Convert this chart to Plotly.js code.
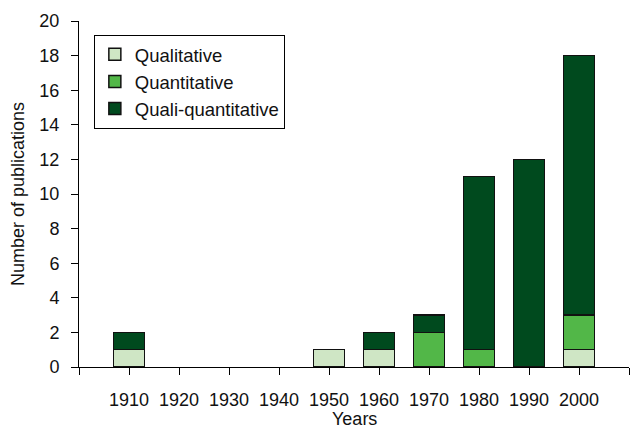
<!DOCTYPE html>
<html>
<head>
<meta charset="utf-8">
<script src="https://cdn.plot.ly/plotly-3.0.1.min.js"></script>
<style>html,body{margin:0;padding:0;background:#fff;}#chart{width:630px;height:428px;}</style>
</head>
<body>
<div id="chart"></div>
<script>
const years = [1910, 1920, 1930, 1940, 1950, 1960, 1970, 1980, 1990, 2000];
const qualitative = [1, 0, 0, 0, 1, 1, 0, 0, 0, 1];
const quantitative = [0, 0, 0, 0, 0, 0, 2, 1, 0, 2];
const qualiQuantitative = [1, 0, 0, 0, 0, 1, 1, 10, 12, 15];
const seriesNames = ['Qualitative', 'Quantitative', 'Quali-quantitative'];
const colors = ['#cfe6c5', '#52b748', '#004a1e'];
const yTicks = [0, 2, 4, 6, 8, 10, 12, 14, 16, 18, 20];

const allSeries = [qualitative, quantitative, qualiQuantitative];
const traces = allSeries.map((vals, i) => ({
  type: 'bar',
  name: seriesNames[i],
  x: years,
  y: vals.map(v => v === 0 ? null : v),
  width: 6.2,
  marker: {color: colors[i], line: {color: '#111', width: 1.5}},
  hoverinfo: 'x+y+name'
}));

const xTickVals = [years[0] - 10].concat(years, [years[years.length - 1] + 10]);
const xTickText = [''].concat(years.map(String), ['']);

const layout = {
  width: 630, height: 428,
  margin: {l: 79, r: 1, t: 21, b: 61},
  paper_bgcolor: '#fff', plot_bgcolor: '#fff',
  barmode: 'stack',
  showlegend: true,
  font: {family: 'Liberation Sans, Arial, sans-serif', size: 18, color: '#111'},
  legend: {
    x: 0.027, y: 0.96, xanchor: 'left', yanchor: 'top',
    traceorder: 'normal',
    bordercolor: '#000', borderwidth: 1, bgcolor: '#fff',
    font: {size: 18.5, color: '#111'},
    itemwidth: 30,
    tracegroupgap: 0
  },
  xaxis: {
    range: [1900, 2010],
    tickmode: 'array', tickvals: xTickVals, ticktext: xTickText,
    ticks: 'outside', ticklen: 7, tickwidth: 1, tickcolor: '#000',
    ticklabelstandoff: 9,
    showline: true, linecolor: '#000', linewidth: 1,
    showgrid: false, zeroline: false,
    tickfont: {size: 18},
    automargin: false
  },
  yaxis: {
    range: [0, 20],
    tickmode: 'array', tickvals: yTicks,
    ticks: 'outside', ticklen: 7, tickwidth: 1, tickcolor: '#000',
    ticklabelstandoff: 8,
    showline: true, linecolor: '#000', linewidth: 1,
    showgrid: false, zeroline: false,
    tickfont: {size: 18},
    title: {text: 'Number of publications', font: {size: 18}, standoff: 10},
    automargin: false
  },
  annotations: [{
    text: 'Years', xref: 'paper', yref: 'paper', x: 0.5, y: 0,
    xanchor: 'center', yanchor: 'top', yshift: -40, showarrow: false,
    font: {size: 18, color: '#111'}
  }]
};

Plotly.newPlot('chart', traces, layout, {displayModeBar: false, staticPlot: true});
</script>
</body>
</html>
